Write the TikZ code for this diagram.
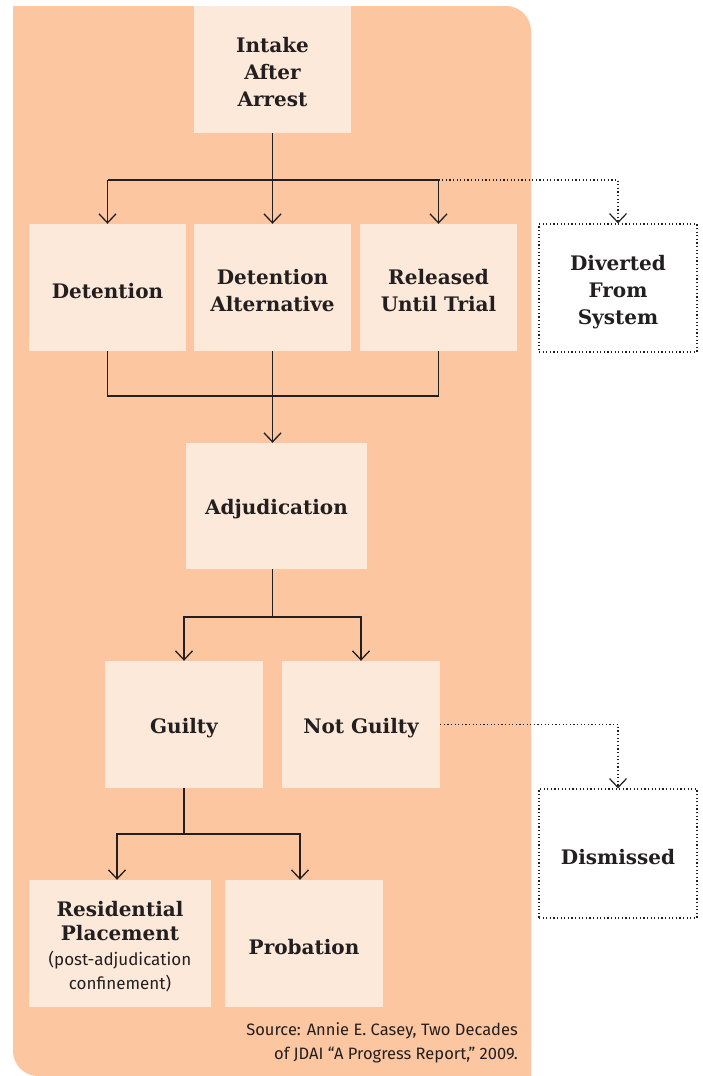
\documentclass[tikz,border=0pt]{standalone}
\usepackage{fontspec}
\setmainfont{Fira Sans}
\newfontfamily\slab{DejaVu Serif}
\usetikzlibrary{arrows.meta}
\definecolor{panelc}{RGB}{251,198,160}
\definecolor{boxc}{RGB}{253,233,218}
\definecolor{inkc}{RGB}{35,31,32}
\newcommand{\padto}[1]{\rule{0pt}{#1}}
\tikzset{
  stepbox/.style={fill=boxc, inner sep=0pt, align=center, text=inkc,
    font=\slab\bfseries\fontsize{20}{27}\selectfont, execute at begin node={\padto{22pt}}},
  dotbox/.style={draw=inkc, line width=1.2pt, dash pattern=on 1.2pt off 2.4pt, inner sep=0pt, align=center, text=inkc,
    font=\slab\bfseries\fontsize{20}{27}\selectfont, execute at begin node={\padto{22pt}}},
  boxtext/.style={inner sep=0pt, align=center, text=inkc,
    font=\slab\bfseries\fontsize{20}{27}\selectfont},
  link/.style={draw=inkc, line width=1.3pt},
  dotlink/.style={draw=inkc, line width=1.2pt, dash pattern=on 1.2pt off 2.4pt},
  arr/.style={-{Straight Barb[length=9pt,width=17pt]}},
}
\begin{document}
\begin{tikzpicture}[x=1pt,y=-1pt]
\useasboundingbox (0,0) rectangle (702,1076);
% panel
\fill[panelc, rounded corners=25pt] (13,6) rectangle (531,1076);
\fill[panelc] (13,6) rectangle (60,60);
\fill[panelc] (480,1020) rectangle (531,1076);

% boxes
\node[stepbox, minimum width=157pt, minimum height=127pt] (intake) at (272.5,69.5) {};
\node[boxtext] (intake-t) at ([yshift=-3pt]intake.center) {Intake\\After\\Arrest};
\node[stepbox, minimum width=157pt, minimum height=127pt] (det) at (107.5,287.5) {Detention};
\node[stepbox, minimum width=157pt, minimum height=127pt] (alt) at (272.5,287.5) {};
\node[boxtext] (alt-t) at ([yshift=-3pt]alt.center) {Detention\\Alternative};
\node[stepbox, minimum width=157pt, minimum height=127pt] (rel) at (438.5,287.5) {};
\node[boxtext] (rel-t) at ([yshift=-3pt]rel.center) {Released\\Until Trial};
\node[dotbox, minimum width=158pt, minimum height=128pt] (div) at (618,288) {};
\node[boxtext] (div-t) at ([yshift=-4pt]div.center) {Diverted\\From\\System};
\node[stepbox, minimum width=181pt, minimum height=126pt] (adj) at (276.5,506) {Adjudication};
\node[stepbox, minimum width=158pt, minimum height=127pt] (guilty) at (184,724.5) {Guilty};
\node[stepbox, minimum width=158pt, minimum height=127pt] (notg) at (361,724.5) {Not Guilty};
\node[dotbox, minimum width=158pt, minimum height=129pt] (dism) at (618,853.5) {Dismissed};
\node[stepbox, minimum width=182pt, minimum height=127pt] (res) at (120,943.5) {};
\node[boxtext, font=\slab\bfseries\fontsize{20}{24.5}\selectfont] (res-t) at ([yshift=-3pt]res.center)
  {Residential\\Placement\\{\normalfont\mdseries\fontsize{17}{24.5}\selectfont (post-adjudication}\\{\normalfont\mdseries\fontsize{17}{24.5}\selectfont confinement)}};
\node[stepbox, minimum width=158pt, minimum height=127pt] (prob) at (304,943.5) {Probation};

% source
\node[anchor=east, align=right, inner sep=0pt, text=inkc, font=\fontsize{16.5}{24}\selectfont] (src) at (518,1043)
  {Source: Annie E. Casey, Two Decades\\of JDAI “A Progress Report,” 2009.};

% connectors
\coordinate (b) at (272.5,180);
\coordinate (m) at (272.5,396);
\coordinate (g) at (272.5,617);
\coordinate (r) at (184,834);

\draw[link, arr] (intake.south) -- (alt.north);
\draw[link] (det.north |- b) -- (rel.north |- b);
\draw[link, arr] (det.north |- b) -- (det.north);
\draw[link, arr] (rel.north |- b) -- (rel.north);
\draw[dotlink, arr] (rel.north |- b) -| (div.north);

\draw[link] (det.south) |- (rel.south |- m) -- (rel.south);
\draw[link, arr] (alt.south) -- (alt.south |- adj.north);

\draw[link] (alt.south |- adj.south) -- (g);
\draw[link, arr] (g) -| (guilty.north);
\draw[link, arr] (g) -| (notg.north);
\draw[dotlink, arr] (notg.east) -| (dism.north);

\draw[link] (guilty.south) -- (r);
\draw[link, arr] (r) -| ([xshift=-3pt]res.north);
\draw[link, arr] (r) -| ([xshift=-4pt]prob.north);
\end{tikzpicture}
\end{document}
